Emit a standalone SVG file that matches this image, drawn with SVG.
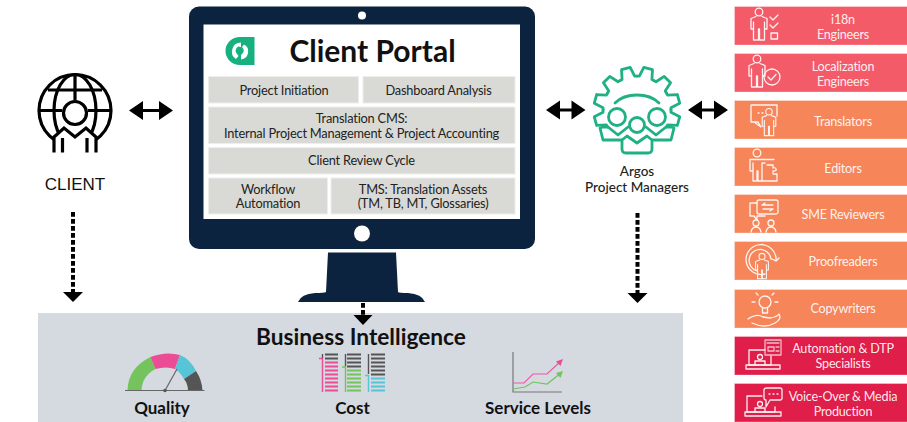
<svg xmlns="http://www.w3.org/2000/svg" width="907" height="422" viewBox="0 0 907 422">
<style>
text{font-family:Lato,"Open Sans","Liberation Sans",sans-serif;text-anchor:middle}
.tile{fill:#d9dad6;stroke:#eeeeec;stroke-width:1}
.tl{font-size:12.8px;letter-spacing:-.2px;fill:#222}
.pill{stroke:#fff;stroke-opacity:.3;stroke-width:1}
.red{fill:#f45b69}.org{fill:#f6855a}.crim{fill:#e01e4a}
.pl{font-size:12.600px;letter-spacing:-.2px;fill:#fff;fill-opacity:.92}
.ic{fill:none;stroke:#fff;stroke-width:1.3;stroke-linejoin:round;stroke-linecap:round;opacity:.92}
.bi{font-size:17px;font-weight:700;fill:#111}
.dash{fill:none;stroke:#000;stroke-width:4;stroke-dasharray:4.8 2.200}
.dbl{fill:none;stroke:#000;stroke-width:3}
.globe{fill:none;stroke:#000;stroke-width:3.2}
.gear{fill:none;stroke:#1fb183;stroke-width:2.800;stroke-linejoin:round;stroke-linecap:round}
</style>
<defs>
<g id="figure"><circle cx="0" cy="-12" r="3.800"/><path d="M-3 -7.500L-8 -5.500V5H-5.500V-2M-5.500 5V16H-.5V5H.5V16H5.500V-2M3 -7.500L8 -5.500V5H5.500"/></g>
<path id="tooth" d="M-8.800 -32.800L-6.500 -33.400L-4.500 -43H4.500L6.500 -33.400L8.800 -32.800"/>
</defs>

<g id="connectors">
<g id="client-portal"><path class="dbl" d="M140 110.500H162"/><path d="M129 110.500L143 101V120Z M173 110.500L159 101V120Z"/></g>
<g id="portal-argos"><path class="dbl" d="M556 110H575"/><path d="M546 110L560 100.500V119.500Z M585.500 110L571.500 100.500V119.500Z"/></g>
<g id="argos-roles"><path class="dbl" d="M698 110H718"/><path d="M688 110L702 100.500V119.500Z M728 110L714 100.500V119.500Z"/></g>
<g id="client-bi"><path class="dash" d="M73 212V292"/><path d="M63 292H83L73 302Z"/></g>
<g id="argos-bi"><path class="dash" d="M637.500 213V293"/><path d="M627.500 293H647.500L637.500 303Z"/></g>
</g>

<g id="client">
<g class="globe">
<circle cx="75" cy="110.500" r="36"/>
<ellipse cx="75" cy="110.500" rx="21" ry="36"/>
<path d="M75 74.500V100M48 90H102M39 110.500H62M88 110.500H111"/>
<circle cx="75" cy="113" r="11.500" fill="#fff"/>
<path d="M54 152.500V137L64 128L75 137L86 128L96 137V152.500M62.500 152.500V138M87 152.500V138" fill="#fff"/>
</g>
<text x="75" y="190" style="font-family:'Liberation Sans',sans-serif;font-size:17px" fill="#111">CLIENT</text>
</g>

<g id="portal">
<path fill="#0c2340" d="M328 252.500H396L398 292Q399 293 408 293Q422 294 425 302H298Q301 294 315 293Q324 293 326 292Z"/>
<rect x="189" y="6.500" width="346" height="242.500" rx="10" fill="#0c2340"/>
<rect x="203.500" y="24.500" width="316.500" height="194.500" fill="#fff"/>
<circle cx="362" cy="15.500" r="4" fill="#fff"/>
<circle cx="362" cy="233.500" r="8" fill="#fff"/>
<g id="portal-logo">
<path fill="#17b07f" d="M240 37H254.500V65H240A14.500 14 0 0 1 240 37Z"/>
<path fill="#fff" d="M241 42.500A9 9 0 0 0 236 59L238.500 56Q233 50 238 46.500L241 47ZM244 44.500A8 8 0 0 1 241 59.500L241 55Q246 51 242 47Z"/>
</g>
<text x="372.500" y="62" font-size="30" font-weight="700" fill="#111">Client Portal</text>
<g id="tile-initiation"><rect class="tile" x="208.500" y="76.500" width="150" height="26.500"/><text class="tl" x="284" y="94.500">Project Initiation</text></g>
<g id="tile-dashboard"><rect class="tile" x="363" y="76.500" width="152" height="26.500"/><text class="tl" x="438.500" y="94.500">Dashboard Analysis</text></g>
<g id="tile-cms"><rect class="tile" x="208.500" y="107" width="306.500" height="36.500"/><text class="tl" x="361.500" y="122.500">Translation CMS:</text><text class="tl" x="361.500" y="137.500">Internal Project Management &amp; Project Accounting</text></g>
<g id="tile-review"><rect class="tile" x="208.500" y="147.500" width="306.500" height="26.500"/><text class="tl" x="361.500" y="165">Client Review Cycle</text></g>
<g id="tile-workflow"><rect class="tile" x="208.500" y="178" width="119" height="36"/><text class="tl" x="268" y="193.500">Workflow</text><text class="tl" x="268" y="208">Automation</text></g>
<g id="tile-tms"><rect class="tile" x="331" y="178" width="184" height="36"/><text class="tl" x="423" y="193.500">TMS: Translation Assets</text><text class="tl" x="423" y="208">(TM, TB, MT, Glossaries)</text></g>
</g>

<g id="argos">
<g class="gear">
<g transform="translate(637 110)">
<use href="#tooth" transform="rotate(-105)"/><use href="#tooth" transform="rotate(-75)"/><use href="#tooth" transform="rotate(-45)"/><use href="#tooth" transform="rotate(-15)"/>
<use href="#tooth" transform="rotate(15)"/><use href="#tooth" transform="rotate(45)"/><use href="#tooth" transform="rotate(75)"/><use href="#tooth" transform="rotate(105)"/>
</g>
<path d="M615 103Q623 95 637 95T659 103"/>
<circle cx="617" cy="117" r="8.500"/><circle cx="657" cy="117" r="8.500"/><circle cx="637" cy="125" r="7.500"/>
<path d="M607.600 127H603L600 128L603 140H622M666.400 127H671L674 128L671 140H652M608 127L618 135L628 127M666 127L656 135L646 127"/>
<path d="M622 140L627 136L637 143L647 136L652 140V149Q652 153 648 153H626Q622 153 622 149Z"/>
</g>
<text x="637" y="176" font-size="13.500" font-weight="500" fill="#222">Argos</text>
<text x="637" y="192" font-size="13.500" font-weight="500" fill="#222">Project Managers</text>
</g>

<g id="business-intelligence">
<rect x="38" y="313" width="645" height="109" fill="#d5d9e0"/>
<path class="dash" d="M363 303V315"/><path d="M353.500 315H372.500L363 325Z"/>
<text x="361" y="345" font-size="22.700" font-weight="700" fill="#111">Business Intelligence</text>
<g id="quality">
<path fill="#74c35c" d="M127.500 390.500H141.500Q142 376 155.500 369L150.500 357Q128 368 127.500 390.500Z"/>
<path fill="#ec4c96" d="M150.500 357Q166 351 180 355L175 369Q166 366 155.500 369Z"/>
<path fill="#56c5d8" d="M180 355Q190 359 196 371L184 379Q180 372 175 369Z"/>
<path fill="#555" d="M196 371Q202 380 202.500 390.500H188Q188 384 184 379Z"/>
<path d="M125 390.500H204.500" stroke="#666" stroke-width="1.200"/>
<path d="M165 390.500L177 369" stroke="#666" stroke-width="1.200"/>
<circle cx="165" cy="390.500" r="1.800" fill="#555"/>
<text class="bi" x="162" y="414">Quality</text>
</g>
<g id="cost">
<g stroke-width="1.800" fill="none">
<path stroke="#555" d="M325 354.500H338M325 358.500H338M347 354.500H361M347 358.500H361M347 362.500H361M347 366.500H361M371 354.500H385M371 358.500H385M371 362.500H385M371 366.500H385M371 370.500H385M371 374.500H385"/>
<path stroke="#ec4c96" d="M325 362.500H338M325 366.500H338M325 370.500H338M325 374.500H338M325 378.500H338M325 382.500H338M325 386.500H338M325 390.500H338"/>
<path stroke="#74c35c" d="M347 370.500H361M347 374.500H361M347 378.500H361M347 382.500H361M347 386.500H361M347 390.500H361"/>
<path stroke="#56c5d8" d="M371 378.500H385M371 382.500H385M371 386.500H385M371 390.500H385"/>
</g>
<path fill="none" stroke-width="1.400" stroke="#555" d="M322.500 354V358M345.500 354V366M368.500 354V374"/>
<path fill="none" stroke-width="1.400" stroke="#ec4c96" d="M322.500 358V392M319 358.500H322.500"/>
<path fill="none" stroke-width="1.400" stroke="#74c35c" d="M345.500 366V392M342 367H345.500"/>
<path fill="none" stroke-width="1.400" stroke="#56c5d8" d="M368.500 375V392M365 375.500H368.500"/>
<text class="bi" x="352.500" y="414">Cost</text>
</g>
<g id="service-levels">
<path fill="none" stroke="#777" stroke-width="1.200" d="M513 352V392H562"/>
<path fill="none" stroke="#ec5ba0" stroke-width="1.200" d="M513 383H524L533 374H547L561 361"/>
<path fill="#ec4c96" d="M563 359L556 361.500L560.500 366Z"/>
<path fill="none" stroke="#74c35c" stroke-width="1.200" d="M513 389L525 387L533 382L547 384L561 373"/>
<path fill="#74c35c" d="M563 371L556 373L560.500 378Z"/>
<text class="bi" x="538" y="414">Service Levels</text>
</g>
</g>

<g id="role-i18n"><rect class="pill red" x="734.500" y="6.500" width="173" height="38.500"/>
<g class="ic" transform="translate(759 24)"><use href="#figure"/><path d="M12 -7L15 -4L20 -9M12 1L15 4L20 -1M13 9H19.500V15H13Z" transform="translate(-1 0)"/></g>
<text class="pl" x="843" y="24">i18n</text><text class="pl" x="843" y="39">Engineers</text></g>
<g id="role-l10n"><rect class="pill red" x="734.500" y="53.500" width="173" height="38.500"/>
<g class="ic" transform="translate(757 71)"><use href="#figure"/><circle cx="15" cy="6" r="8"/><path d="M11 6L14 9L19 3.500"/></g>
<text class="pl" x="843" y="71">Localization</text><text class="pl" x="843" y="86">Engineers</text></g>
<g id="role-translators"><rect class="pill org" x="734.500" y="100.500" width="173" height="38.500"/>
<g class="ic" transform="translate(769 120)"><path d="M-11 2H-18V-15H8V-4M-11 2L-8 7L-15 2"/><path d="M-11 -7H-10M-7 -7H-6"/><g transform="translate(0 2) scale(.85)"><use href="#figure"/></g></g>
<text class="pl" x="843" y="126">Translators</text></g>
<g id="role-editors"><rect class="pill org" x="734.500" y="147.500" width="173" height="38.500"/>
<g class="ic" transform="translate(757 165)"><circle cx="0" cy="-12" r="3.800"/><path d="M-7 -5.500H17M-7 -5.500V6H-4V-2M-4 6V16H0V6H1V16H5V-2L8 -2M10 0H16V3Q18 2 19 4T16 6V9H20V16H5"/></g>
<text class="pl" x="843" y="173">Editors</text></g>
<g id="role-sme"><rect class="pill org" x="734.500" y="194.500" width="173" height="38.500"/>
<g class="ic" transform="translate(763 214)"><rect x="-6" y="-14" width="21" height="14" rx="2"/><path d="M-6 -11H-13V2H-9L-6 6V2H2M-1 -9H10M-1 -9L2 -11M10 -5H0M10 -5L7 -3"/><circle cx="-7" cy="9" r="3"/><path d="M-12 18Q-11 13 -7 13T-2 18"/><circle cx="8" cy="9" r="3"/><path d="M3 18Q4 13 8 13T13 18"/></g>
<text class="pl" x="843" y="219">SME Reviewers</text></g>
<g id="role-proof"><rect class="pill org" x="734.500" y="241.500" width="173" height="38.500"/>
<g class="ic" transform="translate(762 261)"><path d="M3 13A15 15 0 1 1 14 0M-5 10A11 11 0 1 1 9 -2M14 0L10 -2M14 0L17 -3"/><g transform="translate(0 5) scale(.8)"><use href="#figure"/></g></g>
<text class="pl" x="843" y="266">Proofreaders</text></g>
<g id="role-copy"><rect class="pill org" x="734.500" y="289.500" width="173" height="38.500"/>
<g class="ic" transform="translate(765 305)"><circle cx="0" cy="-3" r="6"/><path d="M-2.500 3V8H2.500V3M-10 -3H-13M10 -3H13M-7 -10L-9 -12M7 -10L9 -12M-17 14Q-8 8 -2 12L5 13Q12 12 14 9Q17 14 10 18Q0 24 -13 18"/></g>
<text class="pl" x="843" y="313">Copywriters</text></g>
<g id="role-dtp"><rect class="pill crim" x="734.500" y="336.500" width="173" height="38.500"/>
<g class="ic" transform="translate(763 360)"><path d="M2 -10H-14V5H8V-4"/><path d="M-17 5H17V9H-17Z"/><circle cx="-3" cy="-3" r="2.500"/><path d="M-8 5V1H2V5"/><g opacity=".75"><rect x="2" y="-20" width="16" height="15"/><path d="M4 -17H16M5 -13H11V-9H5ZM13 -13H16M13 -9H16"/></g></g>
<text class="pl" x="843" y="353">Automation &amp; DTP</text><text class="pl" x="843" y="368">Specialists</text></g>
<g id="role-voice"><rect class="pill crim" x="734.500" y="383.500" width="173" height="38.500"/>
<g class="ic" transform="translate(763 406)"><path d="M-1 -10H-16V6H12V1"/><path d="M-18 6H18V10H-18Z"/><circle cx="-3" cy="-2" r="2.500"/><path d="M-8 6V2H2V6"/><path d="M4 -18H17Q19 -18 19 -16V-8Q19 -6 17 -6H7L3 1V-6Q1 -6 1 -8V-16Q1 -18 4 -18Z"/><path d="M6 -12H7M10 -12H11M14 -12H15"/></g>
<text class="pl" x="843" y="401">Voice-Over &amp; Media</text><text class="pl" x="843" y="416">Production</text></g>
</svg>
